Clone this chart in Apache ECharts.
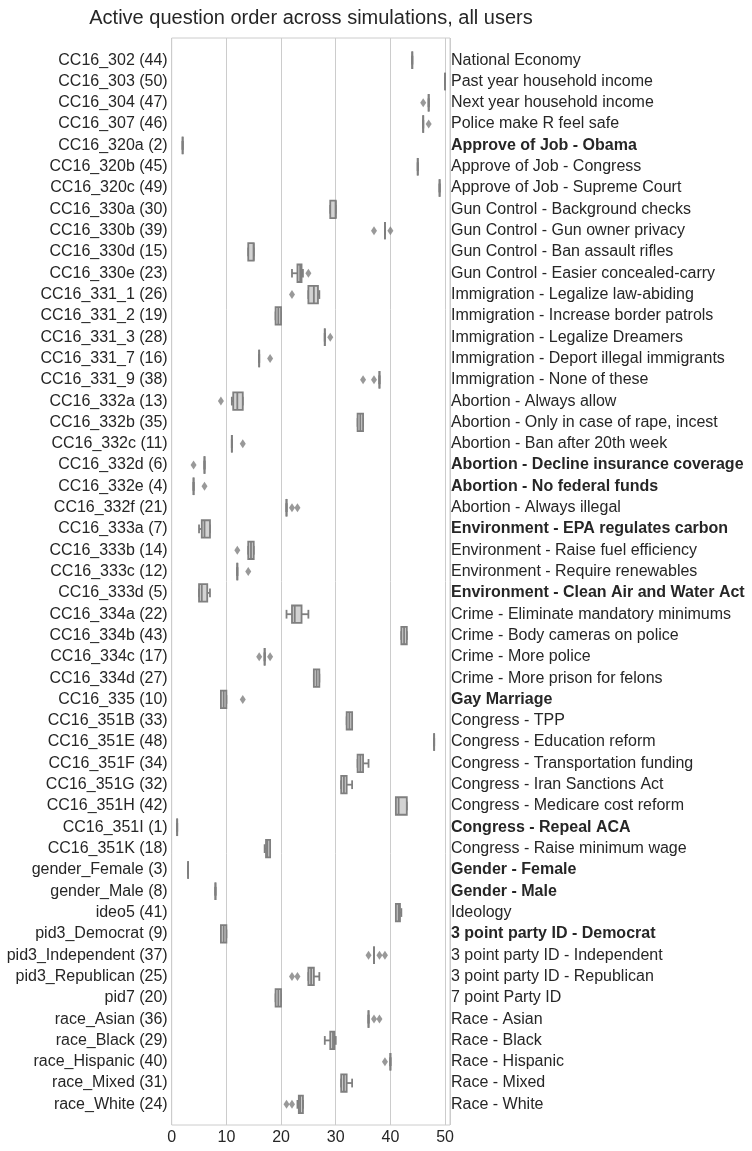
<!DOCTYPE html>
<html>
<head>
<meta charset="utf-8">
<script src="https://cdn.jsdelivr.net/npm/echarts@6/dist/echarts.min.js"></script>
<style>html,body{margin:0;padding:0;background:#fff}#c{width:752px;height:1151px}</style>
</head>
<body>
<div id="c"></div>
<script>
const codes = ['CC16_302','CC16_303','CC16_304','CC16_307','CC16_320a','CC16_320b','CC16_320c','CC16_330a','CC16_330b','CC16_330d','CC16_330e','CC16_331_1','CC16_331_2','CC16_331_3','CC16_331_7','CC16_331_9','CC16_332a','CC16_332b','CC16_332c','CC16_332d','CC16_332e','CC16_332f','CC16_333a','CC16_333b','CC16_333c','CC16_333d','CC16_334a','CC16_334b','CC16_334c','CC16_334d','CC16_335','CC16_351B','CC16_351E','CC16_351F','CC16_351G','CC16_351H','CC16_351I','CC16_351K','gender_Female','gender_Male','ideo5','pid3_Democrat','pid3_Independent','pid3_Republican','pid7','race_Asian','race_Black','race_Hispanic','race_Mixed','race_White'];
const ranks = [44,50,47,46,2,45,49,30,39,15,23,26,19,28,16,38,13,35,11,6,4,21,7,14,12,5,22,43,17,27,10,33,48,34,32,42,1,18,3,8,41,9,37,25,20,36,29,40,31,24];
const descriptions = ['National Economy','Past year household income','Next year household income','Police make R feel safe','Approve of Job - Obama','Approve of Job - Congress','Approve of Job - Supreme Court','Gun Control - Background checks','Gun Control - Gun owner privacy','Gun Control - Ban assault rifles','Gun Control - Easier concealed-carry','Immigration - Legalize law-abiding','Immigration - Increase border patrols','Immigration - Legalize Dreamers','Immigration - Deport illegal immigrants','Immigration - None of these','Abortion - Always allow','Abortion - Only in case of rape, incest','Abortion - Ban after 20th week','Abortion - Decline insurance coverage','Abortion - No federal funds','Abortion - Always illegal','Environment - EPA regulates carbon','Environment - Raise fuel efficiency','Environment - Require renewables','Environment - Clean Air and Water Act','Crime - Eliminate mandatory minimums','Crime - Body cameras on police','Crime - More police','Crime - More prison for felons','Gay Marriage','Congress - TPP','Congress - Education reform','Congress - Transportation funding','Congress - Iran Sanctions Act','Congress - Medicare cost reform','Congress - Repeal ACA','Congress - Raise minimum wage','Gender - Female','Gender - Male','Ideology','3 point party ID - Democrat','3 point party ID - Independent','3 point party ID - Republican','7 point Party ID','Race - Asian','Race - Black','Race - Hispanic','Race - Mixed','Race - White'];
// five-number summaries [min, q1, median, q3, max]
const whiskerLow  = [44,50,47,46,2,45,49,29,39,14,22,25,19,28,16,38,11,34,11,6,4,21,5,14,12,5,21,42,17,26,9,32,48,34,31,41,1,17,3,8,41,9,37,25,19,36,28,40,31,23];
const quart1      = [44,50,47,46,2,45,49,29,39,14,23,25,19,28,16,38,11.25,34,11,6,4,21,5.5,14,12,5,22,42,17,26,9,32,48,34,31,41,1,17.25,3,8,41,9,37,25,19,36,29,40,31,23.25];
const medians     = [44,50,47,46,2,45,49,30,39,15,23.5,26,19.5,28,16,38,12,34.5,11,6,4,21,6,14.5,12,5.5,22.5,42.5,17,26.5,9.5,32.5,48,34.5,31.5,41.5,1,17.5,3,8,41.5,9.5,37,25.5,19.5,36,29.5,40,31.5,23.5];
const quart3      = [44,50,47,46,2,45,49,30,39,15,23.75,26.75,20,28,16,38,13,35,11,6,4,21,7,15,12,6.5,23.75,43,17,27,10,33,48,35,32,43,1,18,3,8,41.75,10,37,26,20,36,29.75,40,32,24];
const whiskerHigh = [44,50,47,46,2,45,49,30,39,15,24,27,20,28,16,38,13,35,11,6,4,21,7,15,12,7,25,43,17,27,10,33,48,36,33,43,1,18,3,8,42,10,37,27,20,36,30,40,33,24];
const outliers = [[],[],[46],[47],[],[],[],[],[37,40],[],[25],[22],[],[29],[18],[35,37],[9],[],[13],[4],[6],[22,23],[],[12],[14],[],[],[],[16,18],[],[13],[],[],[],[],[],[],[],[],[],[],[],[36,38,39],[22,23],[],[37,38],[],[39],[],[21,22]];
const xTicks = [0,10,20,30,40,50];

const leftLabels = codes.map((c,i)=>c+' ('+ranks[i]+')');
const boxData = codes.map((c,i)=>[i, whiskerLow[i], quart1[i], medians[i], quart3[i], whiskerHigh[i]]);
const outlierData = [];
outliers.forEach((arr,i)=>arr.forEach(v=>outlierData.push([v,i])));

const FONT = '"Liberation Sans", Arial, sans-serif';
const TXT = '#262626';
const EDGE = '#7f7f7f';
const FILL = '#d3d3d3';
const GRIDC = '#cccccc';
const XMAX = 50.9;

function renderBox(params, api){
  const y = api.value(0);
  const mn = api.value(1), q1 = api.value(2), md = api.value(3), q3 = api.value(4), mx = api.value(5);
  const band = api.size([0,1])[1];
  const h = band*0.82;
  const pMin = api.coord([mn,y]), pQ1 = api.coord([q1,y]), pMd = api.coord([md,y]), pQ3 = api.coord([q3,y]), pMax = api.coord([mx,y]);
  const cy = pQ1[1];
  const ls = {stroke: EDGE, lineWidth: 1.8};
  return {type:'group', children:[
    {type:'line', shape:{x1:pMin[0],y1:cy,x2:pQ1[0],y2:cy}, style:ls},
    {type:'line', shape:{x1:pQ3[0],y1:cy,x2:pMax[0],y2:cy}, style:ls},
    {type:'line', shape:{x1:pMin[0],y1:cy-h/4,x2:pMin[0],y2:cy+h/4}, style:ls},
    {type:'line', shape:{x1:pMax[0],y1:cy-h/4,x2:pMax[0],y2:cy+h/4}, style:ls},
    {type:'rect', shape:{x:pQ1[0],y:cy-h/2,width:pQ3[0]-pQ1[0],height:h}, style:{fill:FILL, stroke:EDGE, lineWidth:1.8}},
    {type:'line', shape:{x1:pMd[0],y1:cy-h/2,x2:pMd[0],y2:cy+h/2}, style:ls}
  ]};
}

const rich = {b:{fontWeight:'bold', fontSize:16, fontFamily:FONT, color:TXT}, n:{fontSize:16, fontFamily:FONT, color:TXT}};

const chart = echarts.init(document.getElementById('c'), null, {renderer:'canvas'});
chart.setOption({
  animation:false,
  backgroundColor:'#fff',
  title:{text:'Active question order across simulations, all users', left:306, top:3, textAlign:'center',
    textStyle:{fontFamily:FONT, fontSize:20, fontWeight:'normal', color:TXT}},
  grid:[
    {left:171.7, right:302, top:38, height:1087, show:true, borderColor:GRIDC, borderWidth:1, backgroundColor:'transparent'},
    {left:171.7, right:302, top:49.5, height:1065.5}
  ],
  xAxis:[
    {type:'value', gridIndex:0, min:0, max:XMAX, interval:10,
      axisLine:{show:false}, axisTick:{show:false},
      splitLine:{show:true, lineStyle:{color:GRIDC, width:1}},
      axisLabel:{fontFamily:FONT, fontSize:16, color:TXT, margin:5, showMaxLabel:false,
        formatter:v=> xTicks.indexOf(v)>=0 ? String(v) : ''}},
    {type:'value', gridIndex:1, min:0, max:XMAX, show:false}
  ],
  yAxis:[
    {type:'value', gridIndex:0, show:false, min:0, max:1},
    {type:'category', gridIndex:1, data:leftLabels, inverse:true, position:'left',
      axisLine:{show:false}, axisTick:{show:false}, splitLine:{show:false},
      axisLabel:{fontFamily:FONT, fontSize:16, color:TXT, margin:4, interval:0}},
    {type:'category', gridIndex:1, data:descriptions, inverse:true, position:'right',
      axisLine:{show:false}, axisTick:{show:false}, splitLine:{show:false},
      axisLabel:{margin:1, interval:0, rich:rich,
        formatter:(v,i)=> ranks[i] <= 10 ? '{b|'+v+'}' : '{n|'+v+'}'}}
  ],
  series:[
    {type:'custom', xAxisIndex:1, yAxisIndex:1, renderItem:renderBox, data:boxData,
      encode:{x:[1,2,3,4,5], y:0}, z:3},
    {type:'scatter', xAxisIndex:1, yAxisIndex:1, data:outlierData, symbol:'diamond', symbolSize:[6,9],
      itemStyle:{color:EDGE}, z:4}
  ]
});
</script>
</body>
</html>
